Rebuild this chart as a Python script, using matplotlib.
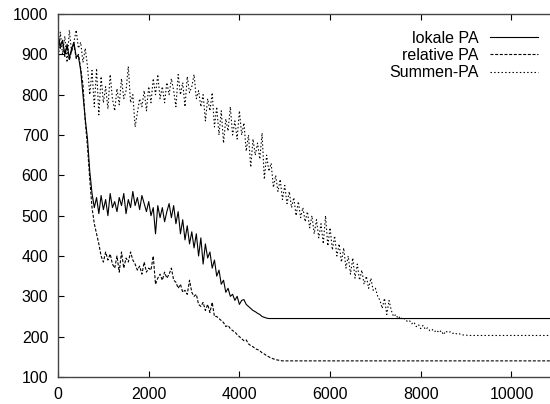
import matplotlib
matplotlib.use('agg')
import matplotlib.pyplot as plt
import numpy as np

plt.rcParams['font.family'] = ['Liberation Sans', 'DejaVu Sans']

# sample spacing of the recorded series and the last x value
step = 50
x_end = 10850

lokale = [950, 920, 935, 900, 925, 890, 915, 930, 895, 895,
          860, 800, 740, 690, 610, 555, 520, 545, 505, 550,
          515, 540, 500, 555, 520, 535, 510, 545, 525, 555,
          505, 540, 520, 560, 525, 545, 515, 550, 530, 510,
          535, 500, 520, 455, 525, 495, 520, 485, 510, 530,
          495, 525, 480, 510, 455, 490, 440, 475, 430, 460,
          420, 455, 400, 445, 380, 430, 395, 410, 370, 390,
          350, 365, 330, 340, 310, 320, 300, 305, 290, 300,
          280, 290, 292, 280, 275, 270, 265, 262, 258, 255,
          250, 248, 246, 245, 245]

relative = [950, 915, 930, 895, 920, 885, 910, 925, 890, 900,
            865, 825, 735, 670, 590, 520, 480, 455, 430, 400,
            385, 410, 390, 405, 380, 370, 400, 360, 410, 370,
            395, 385, 410, 390, 380, 365, 375, 355, 385, 360,
            370, 365, 400, 330, 345, 355, 340, 360, 345, 355,
            370, 340, 335, 320, 330, 310, 315, 305, 340, 310,
            300, 305, 280, 275, 285, 265, 280, 260, 285, 250,
            250, 245, 240, 235, 225, 228, 220, 215, 212, 205,
            200, 195, 190, 192, 182, 178, 175, 170, 168, 165,
            160, 157, 153, 150, 147, 145, 143, 142, 141, 140,
            140]

summen = [870, 955, 900, 945, 880, 960, 905, 930, 960, 915,
          930, 880, 915, 870, 800, 860, 770, 865, 750, 845,
          780, 820, 765, 850, 790, 760, 815, 775, 840, 790,
          810, 870, 780, 800, 720, 755, 790, 770, 810, 760,
          820, 780, 840, 800, 850, 790, 820, 780, 830, 800,
          840, 810, 770, 850, 800, 830, 770, 845, 805, 820,
          850, 790, 810, 770, 800, 735, 790, 760, 805, 720,
          770, 700, 760, 680, 740, 710, 770, 700, 735, 690,
          760, 700, 730, 660, 700, 620, 690, 650, 680, 640,
          705, 590, 650, 610, 630, 570, 600, 560, 590, 540,
          575, 530, 560, 520, 545, 500, 535, 495, 520, 485,
          510, 470, 500, 455, 490, 445, 480, 430, 500, 425,
          470, 415, 450, 400, 430, 385, 420, 370, 400, 355,
          395, 345, 380, 340, 365, 330, 350, 320, 345, 315,
          320, 300, 290, 270, 295, 255, 290, 265, 250, 255,
          245, 250, 242, 245, 238, 240, 232, 236, 225, 230,
          220, 228, 218, 222, 215, 218, 212, 216, 210, 215,
          205, 214, 210, 212, 208, 210, 206, 207, 205, 204,
          204, 203, 203, 203, 203]

labels = ['lokale PA', 'relative PA', 'Summen-PA']


def series_xy(vals):
    x = list(np.arange(len(vals)) * step) + [x_end]
    y = list(vals) + [vals[-1]]
    return x, y


fig = plt.figure(figsize=(5.5, 4.04), dpi=100)
ax = fig.add_axes([0.1055, 0.0668, 0.8945, 0.8985])

styles = [dict(ls='-'), dict(dashes=(2.7, 1.5)), dict(dashes=(1.3, 2.0))]
for vals, lab, st in zip([lokale, relative, summen], labels, styles):
    x, y = series_xy(vals)
    ax.plot(x, y, color='black', lw=0.8, label=lab, **st)

ax.set_xlim(0, x_end)
ax.set_ylim(100, 1000)
ax.set_xticks(range(0, 10001, 2000))
ax.set_yticks(range(100, 1001, 100))
ax.tick_params(direction='in', length=4, width=0.8, top=True, right=False,
               labelsize=11.5, pad=7)
for s in ['top', 'bottom', 'left']:
    ax.spines[s].set_color('#444444')
    ax.spines[s].set_linewidth(1.0)
ax.spines['right'].set_visible(False)

ax.legend(loc='upper right', frameon=False, markerfirst=False,
          fontsize=11.5, handlelength=3.0, handletextpad=0.7,
          labelspacing=0.15, borderaxespad=0.3, bbox_to_anchor=(0.998, 0.985))

fig.savefig('out.png', dpi=100)
